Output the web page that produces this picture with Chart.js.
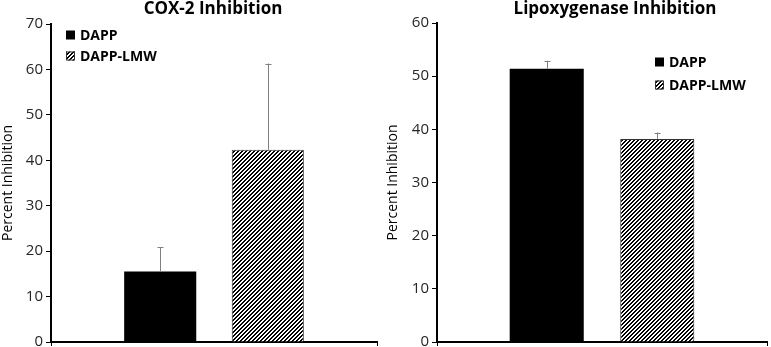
<!DOCTYPE html>
<html>
<head>
<meta charset="utf-8">
<script src="https://cdn.jsdelivr.net/npm/chart.js@4.4.1/dist/chart.umd.min.js"></script>
<style>
  body { margin: 0; background: #fff; overflow: hidden; }
  canvas { position: absolute; top: 0; }
  #cox { left: 0; }
  #lox { left: 385px; }
</style>
</head>
<body>
<canvas id="cox" width="385" height="347"></canvas>
<canvas id="lox" width="386" height="347"></canvas>
<script>
// series names
const series = ['DAPP', 'DAPP-LMW'];

// COX-2 panel
const coxValues = [15.5, 42.3];
const coxErrors = [5.4, 19.0];
const coxTicks = [0, 10, 20, 30, 40, 50, 60, 70];

// Lipoxygenase panel
const loxValues = [51.4, 38.2];
const loxErrors = [1.5, 1.2];
const loxTicks = [0, 10, 20, 30, 40, 50, 60];

const FONT = "'Open Sans', 'DejaVu Sans', sans-serif";

// diagonal hatch "/" for the second series
function makeHatch() {
    const c = document.createElement('canvas');
    c.width = 4; c.height = 4;
    const g = c.getContext('2d');
    g.fillStyle = '#fff';
    g.fillRect(0, 0, 4, 4);
    g.fillStyle = '#000';
    for (let x = 0; x < 4; x++) {
        for (let y = 0; y < 4; y++) {
            if ((x + y) % 4 < 2) g.fillRect(x, y, 1, 1);
        }
    }
    return g.createPattern(c, 'repeat');
}
const hatch = makeHatch();

// upward error bars with a small cap
const errorBars = {
    id: 'errorBars',
    afterDatasetsDraw(chart) {
        const ctx = chart.ctx;
        const yScale = chart.scales.y;
        ctx.save();
        ctx.strokeStyle = '#808080';
        ctx.lineWidth = 1;
        chart.data.datasets.forEach((ds, i) => {
            const meta = chart.getDatasetMeta(i);
            meta.data.forEach((bar, j) => {
                const top = yScale.getPixelForValue(ds.data[j] + ds.errors[j]);
                const x = Math.round(bar.x) + 0.5;
                ctx.beginPath();
                ctx.moveTo(x, bar.y);
                ctx.lineTo(x, top);
                ctx.moveTo(x - 3, Math.round(top) + 0.5);
                ctx.lineTo(x + 3, Math.round(top) + 0.5);
                ctx.stroke();
            });
        });
        ctx.restore();
    }
};

// title and legend drawn where the original has them
const panelText = {
    id: 'panelText',
    afterDraw(chart, args, opts) {
        const ctx = chart.ctx;
        ctx.save();
        ctx.fillStyle = '#000';
        ctx.font = 'bold 17px ' + FONT;
        ctx.textAlign = 'center';
        ctx.textBaseline = 'middle';
        ctx.fillText(opts.title, opts.titleX, 9);

        ctx.font = 'bold 14px ' + FONT;
        ctx.textAlign = 'left';
        chart.data.datasets.forEach((ds, i) => {
            const y = opts.legendY + i * opts.legendGap;
            ctx.fillStyle = ds.backgroundColor;
            ctx.fillRect(opts.legendX, y - 4.5, 9, 9);
            if (ds.borderWidth) {
                ctx.strokeStyle = '#333';
                ctx.lineWidth = 1;
                ctx.strokeRect(opts.legendX + 0.5, y - 4, 8, 8);
            }
            ctx.fillStyle = '#000';
            ctx.fillText(ds.label, opts.legendX + 14, y + 1);
        });
        ctx.restore();
    }
};

function makeChart(id, values, errors, ticks, cfg) {
    const ctx = document.getElementById(id).getContext('2d');
    return new Chart(ctx, {
        type: 'bar',
        data: {
            labels: [''],
            datasets: [
                {
                    label: series[0],
                    data: [values[0]],
                    errors: [errors[0]],
                    backgroundColor: '#000',
                    borderWidth: 0
                },
                {
                    label: series[1],
                    data: [values[1]],
                    errors: [errors[1]],
                    backgroundColor: hatch,
                    borderColor: '#333',
                    borderWidth: 1
                }
            ]
        },
        plugins: [errorBars, panelText],
        options: {
            responsive: false,
            animation: false,
            categoryPercentage: cfg.catPct,
            barPercentage: cfg.barPct,
            layout: { padding: { left: 0, top: cfg.top, right: cfg.right, bottom: 0 } },
            plugins: {
                legend: { display: false },
                title: { display: false },
                tooltip: { enabled: false },
                panelText: cfg.text
            },
            scales: {
                x: {
                    ticks: { display: false },
                    grid: { drawOnChartArea: false, drawTicks: true, tickLength: 4, color: '#000' },
                    border: { display: true, color: '#000', width: 2 },
                    afterFit(scale) {
                        scale.height = 5;
                        scale.paddingLeft = 0;
                        scale.paddingRight = 0;
                    }
                },
                y: {
                    min: ticks[0],
                    max: ticks[ticks.length - 1],
                    afterBuildTicks(scale) { scale.ticks = ticks.map(v => ({ value: v })); },
                    ticks: { color: '#262626', font: { family: FONT, size: 15 }, padding: 3 },
                    grid: { drawOnChartArea: false, drawTicks: true, tickLength: 5, color: '#000' },
                    border: { display: true, color: '#000', width: 2 },
                    title: {
                        display: true,
                        text: 'Percent Inhibition',
                        color: '#000',
                        font: { family: FONT, size: 14 },
                        padding: { top: 0, bottom: 0 }
                    },
                    afterFit(scale) {
                        scale.width = cfg.axisW;
                        scale.paddingTop = 0;
                        scale.paddingBottom = 0;
                    }
                }
            }
        }
    });
}

makeChart('cox', coxValues, coxErrors, coxTicks, {
    catPct: 0.66, barPct: 0.67, top: 24, right: 8, axisW: 51,
    text: { title: 'COX-2 Inhibition', titleX: 213, legendX: 66, legendY: 35, legendGap: 21 }
});

makeChart('lox', loxValues, loxErrors, loxTicks, {
    catPct: 0.67, barPct: 0.67, top: 23, right: 4, axisW: 52,
    text: { title: 'Lipoxygenase Inhibition', titleX: 230, legendX: 270, legendY: 62, legendGap: 23 }
});
</script>
</body>
</html>
